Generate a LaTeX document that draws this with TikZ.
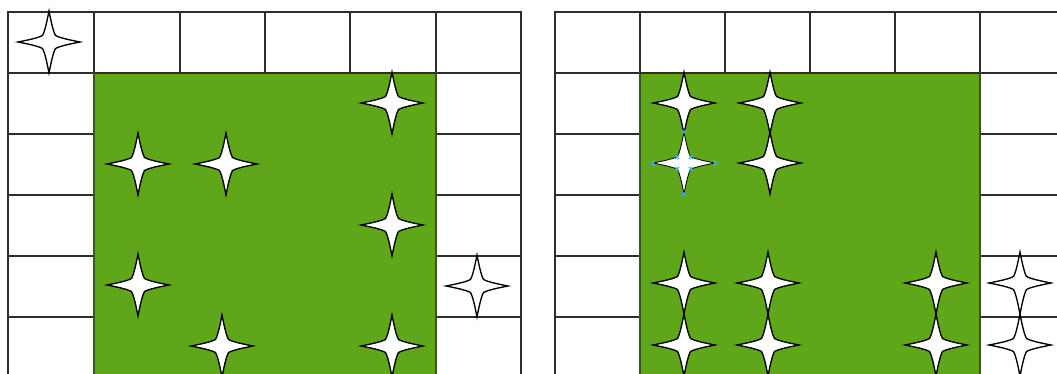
\documentclass[tikz,border=0pt]{standalone}
\usepackage{tikz}
\definecolor{lawn}{RGB}{95,167,25}
\definecolor{gridline}{RGB}{45,45,45}
\definecolor{handle}{RGB}{60,175,225}
\newcommand{\sparkle}[3][]{%
  \draw[sparkle,xshift=#2*0.025cm,yshift=-#3*0.025cm,#1]
    (0,-31) .. controls (2,-21) and (4,-11) .. (6.5,-6.5) .. controls (11,-4) and (21,-2) .. (31,0)
    .. controls (21,2) and (11,4) .. (6.5,6.5) .. controls (4,11) and (2,21) .. (0,31)
    .. controls (-2,21) and (-4,11) .. (-6.5,6.5) .. controls (-11,4) and (-21,2) .. (-31,0)
    .. controls (-21,-2) and (-11,-4) .. (-6.5,-6.5) .. controls (-4,-11) and (-2,-21) .. cycle;}
\newcommand{\grab}[2]{%
  \draw[grab,xshift=#1*0.025cm,yshift=-#2*0.025cm] (-2,-2) -- (2,2) (-2,2) -- (2,-2);}

\begin{document}
\begin{tikzpicture}[x=0.025cm,y=-0.025cm,
  cell/.style={draw=gridline,line width=0.75pt},
  lawnbox/.style={fill=lawn},
  lawnedge/.style={draw=gridline!70!lawn,line width=0.75pt},
  sparkle/.style={draw=black,fill=white,line width=0.95pt,line join=miter},
  grab/.style={draw=handle,line width=0.8pt}]
  \useasboundingbox (0,0) rectangle (1057,374);
  \clip (0,0) rectangle (1057,374);

  % left board
  \draw[cell] (8,12) rectangle (521,400);
  \foreach \x in {94,180,265,350,436} {\draw[cell] (\x,12) -- (\x,73);}
  \foreach \y in {73,134,195,256,317} {
    \draw[cell] (8,\y) -- (94,\y);
    \draw[cell] (436,\y) -- (521,\y);
  }
  \fill[lawnbox] (94,73) rectangle (436,400);
  \draw[lawnedge] (94,73) rectangle (436,400);
  \draw[cell] (94,73) -- (436,73);
  \sparkle{49}{42}
  \foreach \x/\y in {392/103,138/164,226/164,392/225,138/285,222/346,392/346,477/286} {
    \sparkle{\x}{\y}
  }

  % right board
  \draw[cell] (555,400) -- (555,12) -- (1100,12);
  \foreach \x in {640,725,810,895,980} {\draw[cell] (\x,12) -- (\x,73);}
  \foreach \y in {73,134,195,256,317} {
    \draw[cell] (555,\y) -- (640,\y);
    \draw[cell] (980,\y) -- (1100,\y);
  }
  \fill[lawnbox] (640,73) rectangle (980,400);
  \draw[lawnedge] (640,73) rectangle (980,400);
  \draw[cell] (640,73) -- (980,73);
  \foreach \x/\y in {684/103,770/103,770/163,684/283,768/283,936/283,684/345,768/345,936/345,1020/283,1020/345} {
    \sparkle{\x}{\y}
  }
  \sparkle[line width=0.6pt]{684}{163}
  \foreach \x/\y in {684/132,684/194,653/163,715/163,677/157,691/157,677/169,691/169} {
    \grab{\x}{\y}
  }
\end{tikzpicture}
\end{document}
